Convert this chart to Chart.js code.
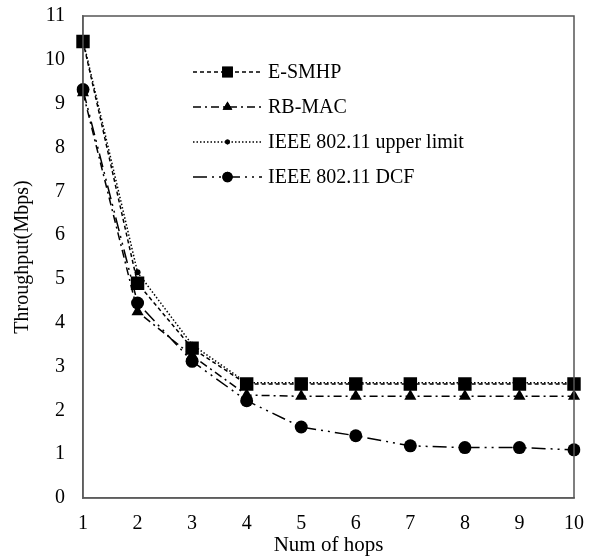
<!DOCTYPE html>
<html>
<head>
<meta charset="utf-8">
<script src="https://cdn.jsdelivr.net/npm/chart.js@4"></script>
<style>
html,body{margin:0;padding:0;background:#fff;}
#wrap{width:590px;height:560px;}
</style>
</head>
<body>
<div id="wrap"><canvas id="c" width="590" height="560"></canvas></div>
<script>
const hops = ["1","2","3","4","5","6","7","8","9","10"];
const seriesNames = ["E-SMHP", "RB-MAC", "IEEE 802.11 upper limit", "IEEE 802.11 DCF"];
const esmhp = [10.42, 4.9, 3.42, 2.6, 2.6, 2.6, 2.6, 2.6, 2.6, 2.6];
const rbmac = [9.25, 4.25, 3.25, 2.35, 2.32, 2.32, 2.32, 2.32, 2.32, 2.32];
const upperLimit = [10.45, 5.15, 3.5, 2.63, 2.63, 2.63, 2.63, 2.63, 2.63, 2.63];
const dcf = [9.32, 4.45, 3.12, 2.22, 1.62, 1.42, 1.19, 1.15, 1.15, 1.1];
const yTicks = [0,1,2,3,4,5,6,7,8,9,10,11];

const FONT = "'Liberation Serif', 'Times New Roman', serif";

const styles = [
  {dash:[4,3], pointStyle:'rect', radius:9.5},
  {dash:[8,4,2,4], pointStyle:'triangle', radius:7},
  {dash:[1.5,2], pointStyle:'circle', radius:3},
  {dash:[14,5,2,5,2,5], pointStyle:'circle', radius:6.5}
];
const values = [esmhp, rbmac, upperLimit, dcf];

const datasets = values.map((v,i)=>({
  label: seriesNames[i],
  data: v,
  borderColor:'#000',
  backgroundColor:'#000',
  borderWidth:1.5,
  borderDash: styles[i].dash,
  pointStyle: styles[i].pointStyle,
  pointRadius: styles[i].radius,
  pointHoverRadius: styles[i].radius,
  pointBorderWidth:0,
  pointBackgroundColor:'#000',
  tension:0,
  fill:false
}));

const framePlugin = {
  id:'frame',
  afterDatasetsDraw(chart){
    const {ctx, chartArea:a} = chart;
    ctx.save();
    ctx.strokeStyle = '#555';
    ctx.lineWidth = 1.5;
    ctx.strokeRect(a.left, a.top, a.right - a.left, a.bottom - a.top);
    ctx.restore();
  }
};

const legendPlugin = {
  id:'lineLegend',
  afterDraw(chart){
    const ctx = chart.ctx;
    const x0 = 193, x1 = 262, tx = 268;
    const rows = [72, 107, 142, 177];
    ctx.save();
    chart.data.datasets.forEach((ds,i)=>{
      const y = rows[i];
      ctx.strokeStyle = '#000';
      ctx.lineWidth = 1.5;
      ctx.setLineDash(ds.borderDash || []);
      ctx.beginPath();
      ctx.moveTo(x0, y);
      ctx.lineTo(x1, y);
      ctx.stroke();
      ctx.setLineDash([]);
      ctx.fillStyle = '#000';
      Chart.helpers.drawPoint(ctx, {pointStyle: ds.pointStyle, radius: ds.pointRadius * 0.8, rotation:0, borderWidth:0}, (x0+x1)/2, y);
      ctx.fill();
      ctx.font = "20px " + FONT;
      ctx.textBaseline = 'middle';
      ctx.textAlign = 'left';
      ctx.fillText(ds.label, tx, y + 1);
    });
    ctx.restore();
  }
};

new Chart(document.getElementById('c'), {
  type:'line',
  data:{labels: hops, datasets},
  plugins:[framePlugin, legendPlugin],
  options:{
    responsive:false,
    animation:false,
    devicePixelRatio:1,
    layout:{padding:{top:16, right:16, left:0, bottom:0}},
    plugins:{legend:{display:false}, tooltip:{enabled:false}},
    scales:{
      x:{
        type:'category',
        offset:false,
        grid:{display:false, drawTicks:false},
        border:{display:true, color:'#777', width:1.5},
        ticks:{color:'#000', font:{family:FONT, size:20}, padding:14, maxRotation:0, autoSkip:false},
        title:{display:true, text:'Num of hops', color:'#000', font:{family:FONT, size:21}, padding:{top:0, bottom:2}},
        afterFit(s){ s.height = 62; s.paddingLeft = 0; s.paddingRight = 0; }
      },
      y:{
        min:0, max:11,
        grid:{display:false, drawTicks:false},
        border:{display:true, color:'#777', width:1.5},
        afterBuildTicks(s){ s.ticks = yTicks.map(v=>({value:v})); },
        ticks:{color:'#000', font:{family:FONT, size:20}, padding:18},
        title:{display:true, text:'Throughput(Mbps)', color:'#000', font:{family:FONT, size:20}, padding:{top:11, bottom:0}},
        afterFit(s){ s.width = 83; s.paddingTop = 0; s.paddingBottom = 0; }
      }
    }
  }
});
</script>
</body>
</html>
